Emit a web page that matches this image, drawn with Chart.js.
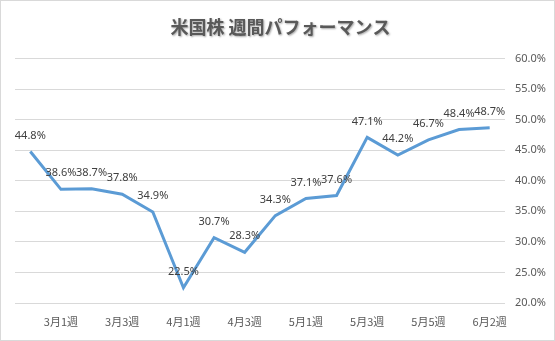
<!DOCTYPE html>
<html>
<head>
<meta charset="utf-8">
<script src="https://cdn.jsdelivr.net/npm/chart.js@4/dist/chart.umd.min.js"></script>
<style>
html,body{margin:0;padding:0;background:#fff;}
#wrap{width:555px;height:341px;box-sizing:border-box;border:1px solid #d9d9d9;position:relative;}
</style>
</head>
<body>
<div id="wrap"><canvas id="c"></canvas></div>
<script>
const titleText = "米国株 週間パフォーマンス";
const categories = ["2月4週","3月1週","3月2週","3月3週","3月4週","4月1週","4月2週","4月3週","4月4週","5月1週","5月2週","5月3週","5月4週","5月5週","6月1週","6月2週"];
const performance = [44.8, 38.6, 38.7, 37.8, 34.9, 22.5, 30.7, 28.3, 34.3, 37.1, 37.6, 47.1, 44.2, 46.7, 48.4, 48.7];
const yMin = 20, yMax = 60, yStep = 5;

const valueLabels = {
  id: 'valueLabels',
  afterInit(chart) {
    const tb = chart.titleBlock;
    if (tb && !tb._shadowWrapped) {
      const orig = tb.draw.bind(tb);
      tb.draw = function() {
        const ctx = chart.ctx;
        ctx.save();
        ctx.shadowColor = 'rgba(0,0,0,0.35)';
        ctx.shadowOffsetX = 1;
        ctx.shadowOffsetY = 1;
        ctx.shadowBlur = 2;
        orig();
        ctx.restore();
      };
      tb._shadowWrapped = true;
    }
  },
  afterDatasetsDraw(chart) {
    const ctx = chart.ctx;
    const meta = chart.getDatasetMeta(0);
    ctx.save();
    ctx.font = '11px "Noto Sans", sans-serif';
    ctx.fillStyle = '#404040';
    ctx.textAlign = 'center';
    ctx.textBaseline = 'middle';
    meta.data.forEach((pt, i) => {
      ctx.fillText(performance[i].toFixed(1) + '%', pt.x, pt.y - 16);
    });
    ctx.restore();
  }
};

new Chart(document.getElementById('c'), {
  type: 'line',
  data: {
    labels: categories,
    datasets: [{
      data: performance,
      borderColor: '#5B9BD5',
      borderWidth: 3,
      pointRadius: 0,
      tension: 0,
      fill: false
    }]
  },
  options: {
    responsive: true,
    maintainAspectRatio: false,
    animation: false,
    layout: { padding: { left: 14, right: 8, top: 0, bottom: 0 } },
    plugins: {
      legend: { display: false },
      tooltip: { enabled: false },
      title: {
        display: true,
        text: titleText,
        color: '#595959',
        font: { family: '"Noto Sans CJK JP", sans-serif', size: 18, weight: 'bold' },
        padding: { top: 15, bottom: 21 }
      }
    },
    scales: {
      x: {
        offset: true,
        grid: { display: false, drawTicks: false },
        border: { display: false },
        afterFit: s => { s.height = 37; },
        ticks: {
          autoSkip: false,
          maxRotation: 0,
          padding: 12,
          color: '#595959',
          font: { family: '"Noto Sans CJK JP", sans-serif', size: 11 },
          callback: function(v, i) { return i % 2 === 1 ? this.getLabelForValue(v) : ''; }
        }
      },
      y: {
        position: 'right',
        min: yMin,
        max: yMax,
        grid: { color: '#d9d9d9', drawTicks: false },
        border: { display: false },
        afterFit: s => { s.width = 41; },
        ticks: {
          stepSize: yStep,
          padding: 8,
          crossAlign: 'far',
          color: '#595959',
          font: { family: '"Noto Sans", sans-serif', size: 11 },
          callback: v => v.toFixed(1) + '%'
        }
      }
    }
  },
  plugins: [valueLabels]
});
</script>
</body>
</html>
